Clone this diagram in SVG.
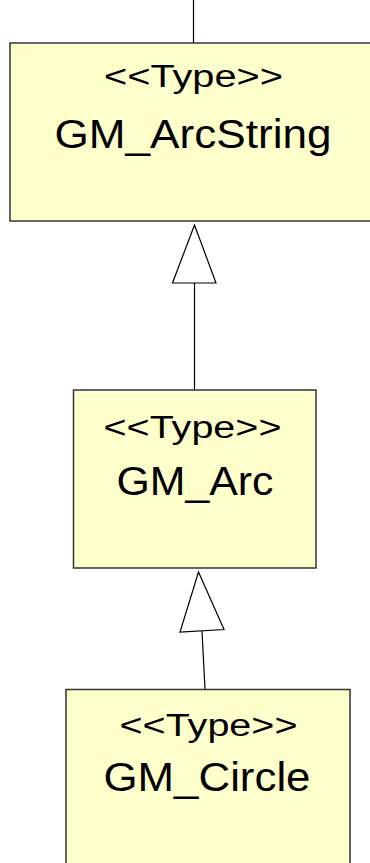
<svg xmlns="http://www.w3.org/2000/svg" width="370" height="863" viewBox="0 0 370 863">
<style>
.box{fill:#FFFFCC;stroke:#333333;stroke-width:1.5}
.st{font-family:"Liberation Sans",Arial,sans-serif;font-size:31px;fill:#000;text-anchor:middle}
.nm{font-family:"Liberation Sans",Arial,sans-serif;font-size:40px;fill:#000;text-anchor:middle}
.ln{stroke:#000;stroke-width:1.2;fill:none}
.hd{fill:#fff;stroke:#000;stroke-width:1.2}
</style>
<rect width="370" height="863" fill="#fff"/>
<g id="connectors">
<line class="ln" x1="193.5" y1="0" x2="193.5" y2="43"/>
<line class="ln" x1="194.5" y1="283" x2="194.5" y2="390"/>
<polygon class="hd" points="194.5,225 172.5,283 216,283"/>
<line class="ln" x1="202" y1="631" x2="205" y2="689"/>
<polygon class="hd" points="198.5,572 180,632 224,629.5"/>
</g>
<g id="GM_ArcString">
<rect class="box" x="10" y="43" width="365" height="178"/>
<text class="st" x="193.5" y="87" textLength="179" lengthAdjust="spacingAndGlyphs">&lt;&lt;Type&gt;&gt;</text>
<text class="nm" x="193" y="148" textLength="277" lengthAdjust="spacingAndGlyphs">GM_ArcString</text>
</g>
<g id="GM_Arc">
<rect class="box" x="73.5" y="390" width="242.5" height="178"/>
<text class="st" x="192.5" y="438" textLength="178" lengthAdjust="spacingAndGlyphs">&lt;&lt;Type&gt;&gt;</text>
<text class="nm" x="195" y="495" textLength="157" lengthAdjust="spacingAndGlyphs">GM_Arc</text>
</g>
<g id="GM_Circle">
<rect class="box" x="66" y="689.5" width="284" height="180"/>
<text class="st" x="208.5" y="736" textLength="178" lengthAdjust="spacingAndGlyphs">&lt;&lt;Type&gt;&gt;</text>
<text class="nm" x="207" y="791" textLength="207" lengthAdjust="spacingAndGlyphs">GM_Circle</text>
</g>
</svg>
